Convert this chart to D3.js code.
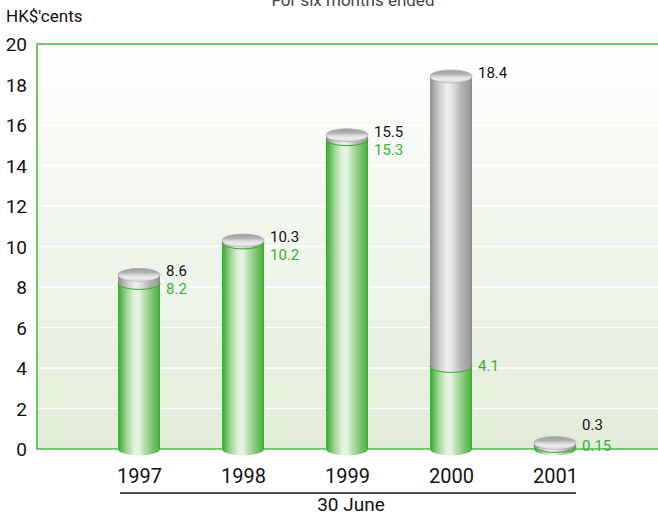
<!DOCTYPE html>
<html><head><meta charset="utf-8">
<script src="https://cdn.jsdelivr.net/npm/d3@7"></script>
<style>body{margin:0;background:#fff}svg{display:block}text{font-family:Roboto,"Liberation Sans",sans-serif}</style>
</head><body><svg id="c" width="658" height="519"></svg>
<script>
const years = ["1997","1998","1999","2000","2001"];
const totalValues = [8.6, 10.3, 15.5, 18.4, 0.3];
const greenValues = [8.2, 10.2, 15.3, 4.1, 0.15];
const totalLabels = ["8.6","10.3","15.5","18.4","0.3"];
const greenLabels = ["8.2","10.2","15.3","4.1","0.15"];
const yTicks = [0,2,4,6,8,10,12,14,16,18,20];

const svg = d3.select("#c");
const W = 658, H = 519;
const plotL = 37, plotT = 44, plotB = 449;
const y = d3.scaleLinear().domain([0,20]).range([plotB, plotT]);
const x = d3.scalePoint().domain(years).range([87, 607]).padding(0.5);
const bw = 42, ry = 6.5;

const defs = svg.append("defs");
const bg = defs.append("linearGradient").attr("id","bg").attr("x1",0).attr("y1",0).attr("x2",0).attr("y2",1);
bg.append("stop").attr("offset",0).attr("stop-color","#ffffff");
bg.append("stop").attr("offset",1).attr("stop-color","#e1ecd8");
function hgrad(id, stops){
  const g = defs.append("linearGradient").attr("id",id).attr("x1",0).attr("y1",0).attr("x2",1).attr("y2",0);
  stops.forEach(s=>g.append("stop").attr("offset",s[0]).attr("stop-color",s[1]));
}
hgrad("green",[[0,"#3aa836"],[0.06,"#52b448"],[0.2,"#9ed392"],[0.38,"#dff0da"],[0.5,"#e8f4e4"],[0.62,"#b9dfb0"],[0.8,"#82c774"],[0.94,"#58b64c"],[1,"#3aa836"]]);
hgrad("gray",[[0,"#8e8e8e"],[0.08,"#a6a6a6"],[0.25,"#d4d4d4"],[0.42,"#f0f0f0"],[0.55,"#dedede"],[0.75,"#b4b4b4"],[0.92,"#a0a0a0"],[1,"#8a8a8a"]]);
const cap = defs.append("linearGradient").attr("id","cap").attr("x1",0).attr("y1",0).attr("x2",0).attr("y2",1);
[[0,"#9c9c9c"],[0.35,"#b4b4b4"],[0.5,"#d6d6d6"],[0.7,"#ececec"],[1,"#dcdcdc"]].forEach(s=>cap.append("stop").attr("offset",s[0]).attr("stop-color",s[1]));

svg.append("rect").attr("x",plotL).attr("y",plotT).attr("width",W-plotL+5).attr("height",plotB-plotT).attr("fill","url(#bg)");
svg.append("g").selectAll("line").data(yTicks.filter(t=>t>0&&t<20)).join("line")
  .attr("x1",plotL).attr("x2",W).attr("y1",d=>y(d)).attr("y2",d=>y(d))
  .attr("stroke","#ffffff").attr("stroke-width",1.5);
svg.append("path").attr("d",`M${W+2},${plotT}H${plotL}V${plotB}H${W+2}`)
  .attr("fill","none").attr("stroke","#4cb848").attr("stroke-width",1.6);

const yAxis = d3.axisLeft(y).tickValues(yTicks).tickSize(0).tickPadding(0).tickFormat(d3.format("d"));
const ga = svg.append("g").attr("transform","translate(27,0)").call(yAxis);
ga.select(".domain").remove();
ga.selectAll("text").attr("font-size",19).attr("fill","#111").attr("dy","0.36em")
  .style("font-family",'Roboto,sans-serif');

svg.append("text").attr("x",6).attr("y",22).attr("font-size",17).attr("fill","#111").text("HK$'cents");
svg.append("text").attr("x",353).attr("y",6).attr("text-anchor","middle").attr("font-size",17).attr("fill","#444").text("For six months ended");

const data = years.map((yr,i)=>({yr, total: totalValues[i], green: greenValues[i], tl: totalLabels[i], gl: greenLabels[i]}));
const bars = svg.append("g").selectAll("g").data(data).join("g");
bars.each(function(d){
  const g = d3.select(this);
  const cx = x(d.yr), l = cx-bw/2;
  const y0 = y(0), yg = y(d.green), yt = y(d.total);
  g.append("path").attr("d",`M${l},${yg}V${y0}A${bw/2},${ry} 0 0 0 ${l+bw},${y0}V${yg}Z`).attr("fill","url(#green)");
  g.append("path").attr("d",`M${l},${yt}V${yg}A${bw/2},${ry} 0 0 0 ${l+bw},${yg}V${yt}Z`).attr("fill","url(#gray)");
  g.append("path").attr("d",`M${l},${yg}A${bw/2},${ry} 0 0 0 ${l+bw},${yg}`).attr("fill","none").attr("stroke","#3aa836").attr("stroke-width",1);
  g.append("ellipse").attr("cx",cx).attr("cy",yt).attr("rx",bw/2).attr("ry",ry).attr("fill","url(#cap)").attr("stroke","#a8a8a8").attr("stroke-width",0.6);
  const by = Math.min(yt-4, y0-24);
  const gy = Math.max(yg, by+18);
  g.append("text").attr("x",l+bw+6).attr("y",by).attr("dy","0.36em").attr("font-size",15).attr("fill","#111").text(d.tl);
  g.append("text").attr("x",l+bw+6).attr("y",gy).attr("dy","0.36em").attr("font-size",15).attr("fill","#3cae3c").text(d.gl);
});

const xAxis = d3.axisBottom(x).tickSize(0).tickPadding(0);
const gx = svg.append("g").attr("transform","translate(0,469)").call(xAxis);
gx.select(".domain").remove();
gx.selectAll("text").attr("font-size",20).attr("fill","#111").attr("dy","0.71em")
  .style("font-family",'Roboto,sans-serif');
svg.append("line").attr("x1",x(years[0])-19).attr("x2",x(years[4])+21).attr("y1",493).attr("y2",493).attr("stroke","#111").attr("stroke-width",1.3);
svg.append("text").attr("x",351).attr("y",511).attr("text-anchor","middle").attr("font-size",19).attr("fill","#111").text("30 June");
</script></body></html>
